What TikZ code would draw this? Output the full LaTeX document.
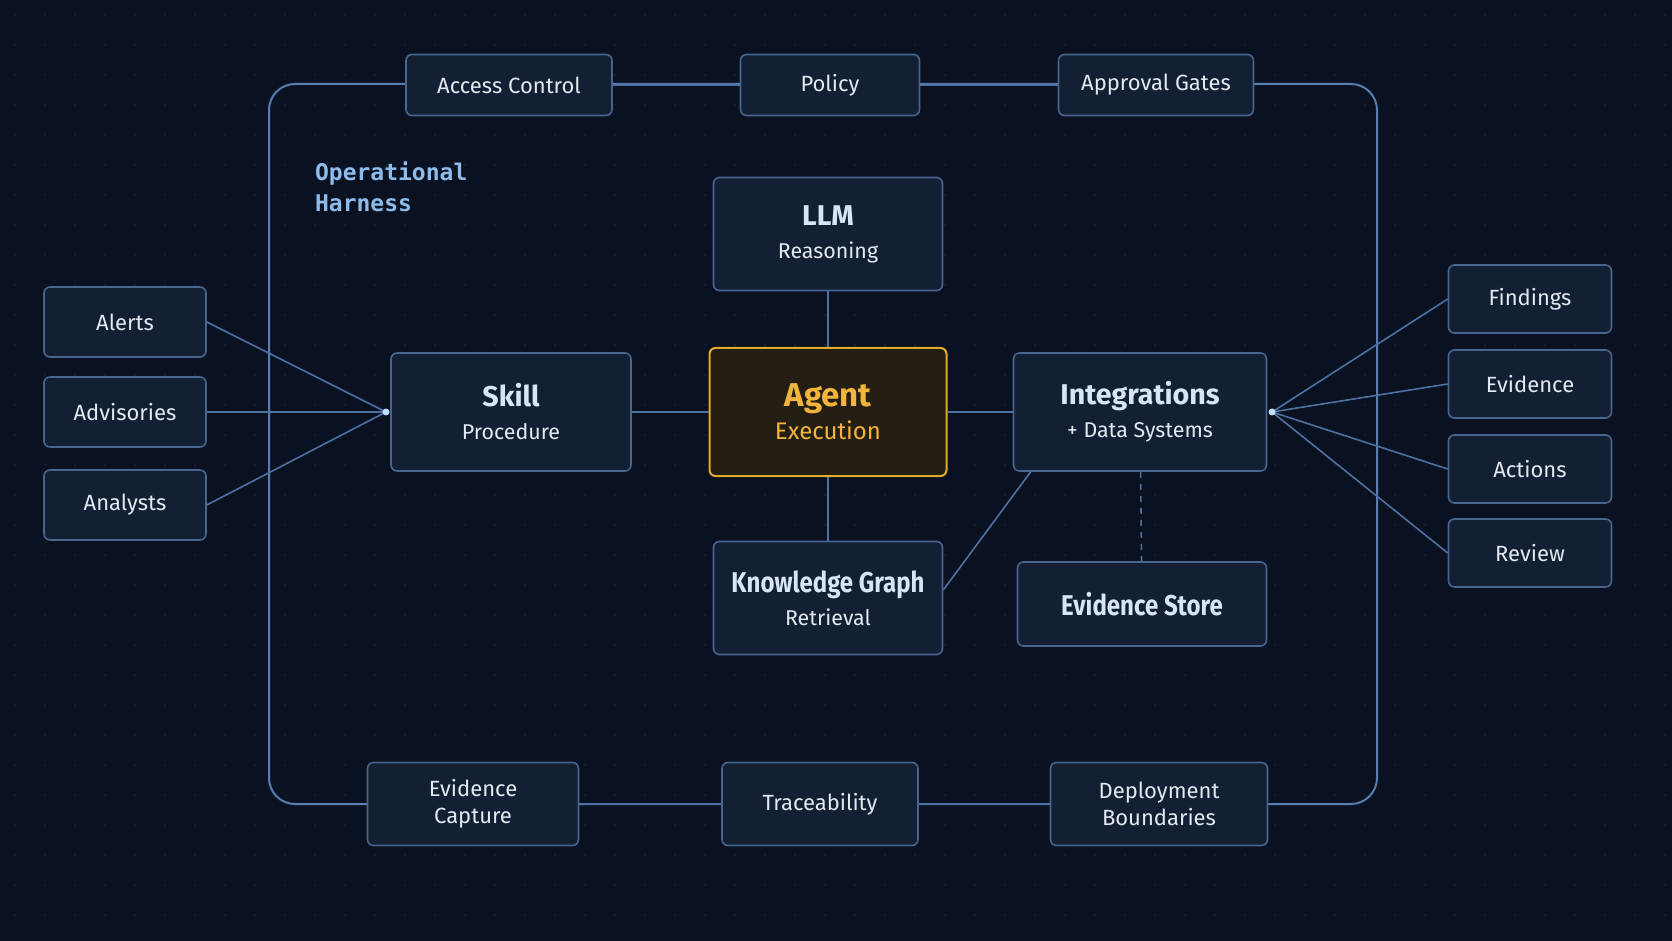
\documentclass[tikz,border=0pt]{standalone}
\usepackage{fontspec}
\setmainfont{Fira Sans}
\setmonofont{DejaVu Sans Mono}
\usepackage{graphicx}
\usepackage{tikz}
\usetikzlibrary{positioning}

\definecolor{bgcol}{HTML}{0A1120}
\definecolor{dotcol}{HTML}{1A2436}
\definecolor{boxfill}{HTML}{132034}
\definecolor{boxline}{HTML}{48658E}
\definecolor{wire}{HTML}{4E71A2}
\definecolor{framecol}{HTML}{5A7DB0}
\definecolor{txtcol}{HTML}{E3E9F1}
\definecolor{titlecol}{HTML}{D8E5F6}
\definecolor{harnesscol}{HTML}{8DBCEC}
\definecolor{agentfill}{HTML}{241F12}
\definecolor{agentline}{HTML}{E3A92E}
\definecolor{agenttxt}{HTML}{F2B43A}
\definecolor{hubcol}{HTML}{BFE0FF}

\tikzset{
  box/.style={draw=boxline, fill=boxfill, rounded corners=3pt, line width=0.8pt,
    text=txtcol, align=center, inner sep=2pt, font=\fontsize{11}{13.5}\selectfont},
  bigbox/.style={box, font=\fontsize{10.7}{16.5}\selectfont},
  agentbox/.style={bigbox, draw=agentline, fill=agentfill, text=agenttxt, line width=1pt},
  wireline/.style={draw=wire, line width=0.8pt},
  hub/.style={circle, fill=hubcol, inner sep=0pt, minimum size=3.5pt}
}
\newcommand{\ttl}[1]{{\fontsize{14.3}{16.5}\selectfont\bfseries\color{titlecol}#1}}
\newcommand{\narrowttl}[1]{\ttl{\scalebox{0.84}[1]{#1}}}

\begin{document}
\begin{tikzpicture}[x=0.5pt,y=-0.5pt]
  \useasboundingbox (0,0) rectangle (1672,941);
  \fill[bgcol] (0,0) rectangle (1672,941);
  % dot grid
  \foreach \x in {15,45,...,1665}
    \foreach \y in {15,45,...,935}
      \fill[dotcol] (\x,\y) circle (0.5pt);

  % harness frame
  \draw[framecol, line width=1pt, rounded corners=13pt] (269,84) rectangle (1377,804);
  \node[anchor=west, align=left, text=harnesscol, font=\fontsize{11.5}{15.5}\ttfamily\bfseries] (harness) at (308,187) {Operational\\Harness};

  % frame boxes
  \node[box, minimum width=103pt, minimum height=30.5pt] (access) at (509,85) {Access Control};
  \node[box, minimum width=89.5pt, minimum height=30.5pt] (policy) at (830,85) {Policy};
  \node[box, minimum width=97.5pt, minimum height=30.5pt] (approval) at (1156,85) {Approval Gates};
  \node[box, minimum width=105.5pt, minimum height=41.5pt] (capture) at (473,804) {Evidence\\Capture};
  \node[box, minimum width=98pt, minimum height=41.5pt] (trace) at (820,804) {Traceability};
  \node[box, minimum width=108.5pt, minimum height=41.5pt] (deploy) at (1159,804) {Deployment\\Boundaries};

  % inputs
  \node[box, minimum width=81pt, minimum height=35pt] (alerts) at (125,322) {Alerts};
  \node[box, minimum width=81pt, minimum height=35pt] (advis) at (125,412) {Advisories};
  \node[box, minimum width=81pt, minimum height=35pt] (analysts) at (125,505) {Analysts};

  % core
  \node[bigbox, minimum width=120pt, minimum height=59pt] (skill) at (511,412) {\ttl{Skill}\\Procedure};
  \node[agentbox, minimum width=118.5pt, minimum height=64pt] (agent) at (828,412) {{\fontsize{16.5}{18}\selectfont\bfseries Agent}\\{\fontsize{12}{18}\selectfont Execution}};
  \node[bigbox, minimum width=114.5pt, minimum height=56.5pt] (llm) at (828,234) {\ttl{LLM}\\Reasoning};
  \node[bigbox, minimum width=114.5pt, minimum height=56.5pt] (kg) at (828,598) {\narrowttl{Knowledge Graph}\\Retrieval};
  \node[bigbox, minimum width=126.5pt, minimum height=59pt] (integ) at (1140,412) {\ttl{Integrations}\\+ Data Systems};
  \node[box, minimum width=124.5pt, minimum height=42pt] (store) at (1142,604) {\narrowttl{Evidence Store}};

  % outputs
  \node[box, minimum width=81.5pt, minimum height=34pt] (findings) at (1530,299) {Findings};
  \node[box, minimum width=81.5pt, minimum height=34pt] (evid) at (1530,384) {Evidence};
  \node[box, minimum width=81.5pt, minimum height=34pt] (actions) at (1530,469) {Actions};
  \node[box, minimum width=81.5pt, minimum height=34pt] (review) at (1530,553) {Review};

  % frame links
  \draw[wireline] (access) -- (policy) -- (approval);
  \draw[wireline] (capture) -- (trace) -- (deploy);

  % hubs
  \coordinate (hubL) at (386,412);
  \coordinate (hubR) at (1272,412);
  \foreach \n in {alerts,advis,analysts}
    \draw[wireline] (\n.east) -- (hubL);
  \foreach \n in {findings,evid,actions,review}
    \draw[wireline] (hubR) -- (\n.west);
  \node[hub] at (hubL) {};
  \node[hub] at (hubR) {};

  % core links
  \draw[wireline] (skill) -- (agent) -- (integ);
  \draw[wireline] (llm) -- (agent) -- (kg);
  \draw[wireline] ([yshift=4pt]kg.east) -- ([xshift=9pt]integ.south west);
  \draw[wireline, dashed] (integ) -- (store);
\end{tikzpicture}
\end{document}
